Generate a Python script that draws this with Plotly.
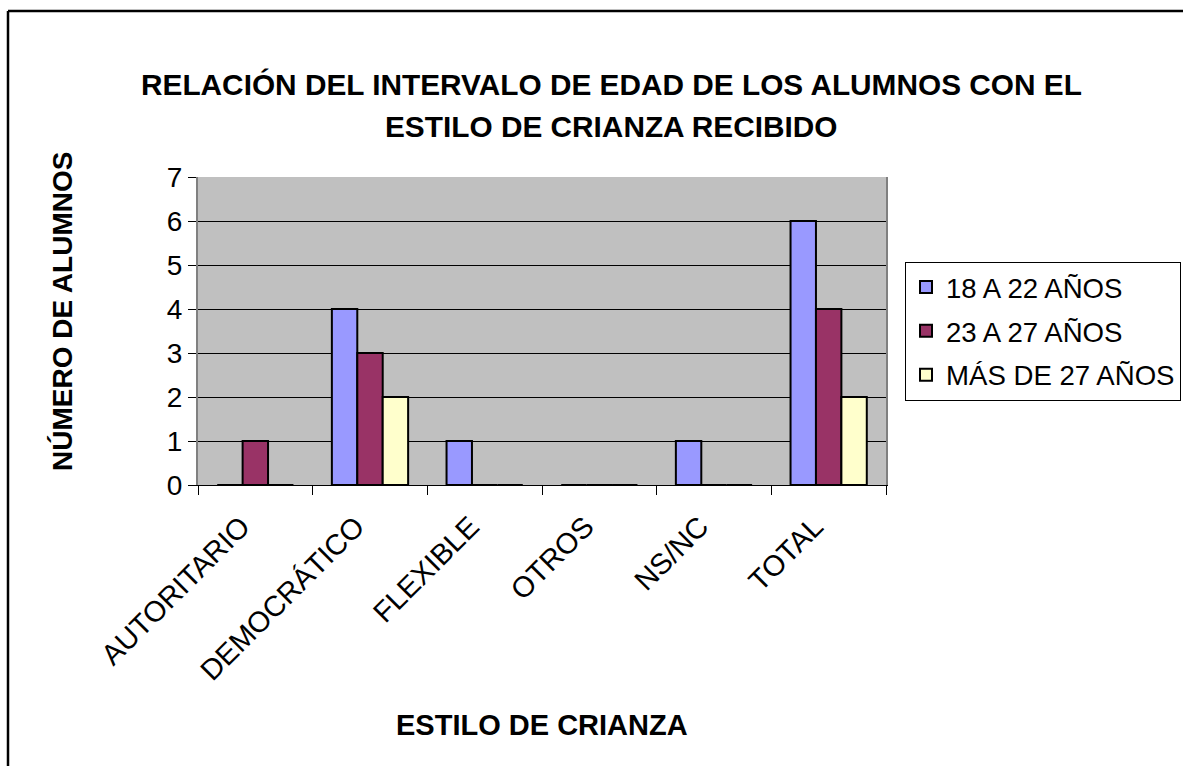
import plotly.graph_objects as go

# Parenting style categories and counts per age group
categorias = ["AUTORITARIO", "DEMOCRÁTICO", "FLEXIBLE", "OTROS", "NS/NC", "TOTAL"]
edad_18_22 = [0, 4, 1, 0, 1, 6]
edad_23_27 = [1, 3, 0, 0, 0, 4]
mas_de_27 = [0, 2, 0, 0, 0, 2]

series = [
    ("18 A 22 AÑOS", edad_18_22, "#9999FF"),
    ("23 A 27 AÑOS", edad_23_27, "#993366"),
    ("MÁS DE 27 AÑOS", mas_de_27, "#FFFFCC"),
]

W, H = 1183, 766
L, R, T, B = 198, 297, 177, 281
pw, ph = W - L - R, H - T - B


def px_x(x):
    return (x - L) / pw


def px_y(y):
    return (H - B - y) / ph


FONT = "Arial, Liberation Sans, sans-serif"

fig = go.Figure()
for i, (nombre, valores, color) in enumerate(series):
    fig.add_trace(go.Bar(
        name=nombre,
        x=categorias,
        y=valores,
        marker=dict(color=color, line=dict(color="black", width=2)),
        legendgroup=f"g{i}",
    ))

fig.update_layout(
    width=W,
    height=H,
    margin=dict(l=L, r=R, t=T, b=B, autoexpand=False),
    paper_bgcolor="white",
    plot_bgcolor="#C0C0C0",
    barmode="group",
    bargap=0.335,
    bargroupgap=0,
    font=dict(family=FONT, color="black", size=28),
    showlegend=True,
    legend=dict(
        xref="container", yref="container",
        x=905 / W, xanchor="left",
        y=(H - 331) / H, yanchor="middle",
        bordercolor="black", borderwidth=1,
        bgcolor="white",
        font=dict(size=27.6, family=FONT),
        tracegroupgap=5,
    ),
    xaxis=dict(
        type="category",
        tickson="boundaries",
        ticks="outside", ticklen=9, tickcolor="black", tickwidth=1,
        tickangle=-45,
        ticklabelstandoff=12,
        ticklabelshift=-14,
        showline=True, linecolor="black", linewidth=1,
        showgrid=False,
        tickfont=dict(size=29),
    ),
    yaxis=dict(
        range=[0, 7], dtick=1,
        ticks="outside", ticklen=8, tickcolor="black", tickwidth=1,
        showline=True, linecolor="#808080", linewidth=2, mirror=True,
        showgrid=True, gridcolor="black", gridwidth=1,
        zeroline=False,
        tickfont=dict(size=28),
    ),
    annotations=[
        dict(text="<b>RELACIÓN DEL INTERVALO DE EDAD DE LOS ALUMNOS CON EL</b>",
             xref="paper", yref="paper", x=px_x(611), y=px_y(84),
             xanchor="center", yanchor="middle", showarrow=False,
             font=dict(size=29.8)),
        dict(text="<b>ESTILO DE CRIANZA RECIBIDO</b>",
             xref="paper", yref="paper", x=px_x(611), y=px_y(126),
             xanchor="center", yanchor="middle", showarrow=False,
             font=dict(size=29.8)),
        dict(text="<b>NÚMERO DE ALUMNOS</b>",
             xref="paper", yref="paper", x=px_x(62), y=px_y(312),
             xanchor="center", yanchor="middle", showarrow=False,
             textangle=-90, font=dict(size=28)),
        dict(text="<b>ESTILO DE CRIANZA</b>",
             xref="paper", yref="paper", x=px_x(542), y=px_y(725),
             xanchor="center", yanchor="middle", showarrow=False,
             font=dict(size=29)),
    ],
    shapes=[
        # outer frame (top and left edges visible)
        dict(type="line", xref="paper", yref="paper",
             x0=px_x(8), x1=px_x(1200), y0=px_y(11), y1=px_y(11),
             line=dict(color="black", width=2.5)),
        dict(type="line", xref="paper", yref="paper",
             x0=px_x(8), x1=px_x(8), y0=px_y(11), y1=px_y(790),
             line=dict(color="black", width=2.5)),
    ],
)

fig.write_html("out.html")
